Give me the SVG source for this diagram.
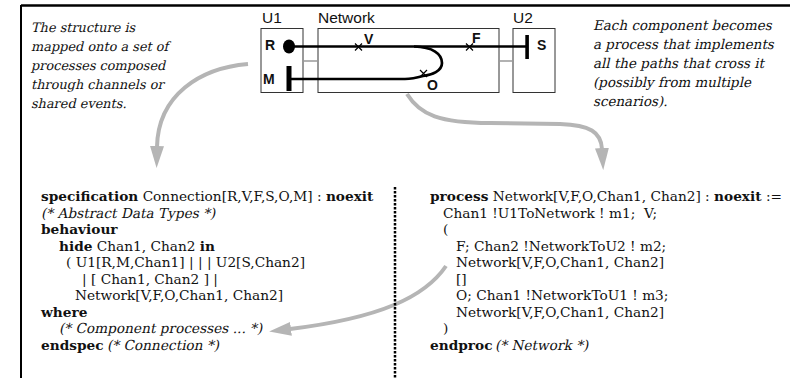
<svg xmlns="http://www.w3.org/2000/svg" width="790" height="378" viewBox="0 0 790 378">
  <style>
    .note { font-family: "DejaVu Serif", "Liberation Serif", serif; font-size: 12.9px; fill: #111; }
    .note-r { font-size: 13.5px; }
    .head { font-family: "Liberation Sans", Arial, sans-serif; font-size: 15.5px; fill: #111; }
    .pt { font-family: "Liberation Sans", Arial, sans-serif; font-size: 14px; font-weight: bold; fill: #111; }
    .code { font-family: "DejaVu Serif", "Liberation Serif", serif; font-size: 13.7px; fill: #111; }
    .b { font-weight: bold; }
    .box { fill: #fff; stroke: #333; stroke-width: 1; }
    .bind { stroke: #999; stroke-width: 1.5; }
    .path { fill: none; stroke: #000; stroke-width: 2.7; }
    .x { stroke: #000; stroke-width: 1.2; }
    .flow { fill: none; stroke: #b5b5b5; stroke-width: 4; }
  </style>
  <defs>
    <marker id="grayHead" markerUnits="userSpaceOnUse" viewBox="0 0 22 14" markerWidth="22" markerHeight="14" refX="1" refY="7" orient="auto">
      <path d="M0,0 L22,7 L0,14 z" fill="#b5b5b5"/>
    </marker>
  </defs>

  <!-- frame -->
  <g id="frame">
    <line x1="21" y1="5.5" x2="790" y2="5.5" stroke="#000" stroke-width="2.5"/>
    <line x1="21" y1="5" x2="21" y2="378" stroke="#000" stroke-width="2"/>
  </g>

  <!-- side notes (slanted serif) -->
  <g id="note-left" class="note">
    <text transform="translate(31,32) skewX(-13)">The structure is</text>
    <text transform="translate(31,51) skewX(-13)">mapped onto a set of</text>
    <text transform="translate(31,70) skewX(-13)">processes composed</text>
    <text transform="translate(31,89) skewX(-13)">through channels or</text>
    <text transform="translate(31,108) skewX(-13)">shared events.</text>
  </g>
  <g id="note-right" class="note note-r">
    <text transform="translate(593,30) skewX(-13)">Each component becomes</text>
    <text transform="translate(593,49) skewX(-13)">a process that implements</text>
    <text transform="translate(593,68) skewX(-13)">all the paths that cross it</text>
    <text transform="translate(593,87) skewX(-13)">(possibly from multiple</text>
    <text transform="translate(593,106) skewX(-13)">scenarios).</text>
  </g>

  <!-- component boxes -->
  <g id="U1">
    <text class="head" x="262" y="23">U1</text>
    <rect class="box" x="261" y="28.5" width="42" height="64"/>
  </g>
  <g id="Network">
    <text class="head" x="318" y="23">Network</text>
    <rect class="box" x="318" y="28.5" width="181" height="64"/>
  </g>
  <g id="U2">
    <text class="head" x="513" y="23">U2</text>
    <rect class="box" x="513" y="28.5" width="42" height="64"/>
  </g>

  <!-- bindings between components -->
  <g id="bindings">
    <line class="bind" x1="303" y1="61" x2="318" y2="61"/>
    <line class="bind" x1="499" y1="61" x2="513" y2="61"/>
  </g>

  <!-- scenario path -->
  <g id="scenario">
    <path class="path" d="M289,46.5 L527,46.5"/>
    <path class="path" d="M414,46.5 C433,47 442,54 442,63 C442,71 432,75 423,76 C416,78 412,79 405,79 L289,79"/>
    <ellipse cx="289" cy="46.5" rx="6" ry="7" fill="#000"/>
    <rect x="286.5" y="66" width="5" height="25" fill="#000"/>
    <rect x="525.3" y="35" width="3.6" height="24" fill="#000"/>
    <path class="x" d="M355,43.5 L362,50.5 M362,43.5 L355,50.5"/>
    <path class="x" d="M466,43.5 L473,50.5 M473,43.5 L466,50.5"/>
    <path class="x" d="M420,70 L427,77 M427,70 L420,77"/>
    <text class="pt" x="265" y="50">R</text>
    <text class="pt" x="263" y="84">M</text>
    <text class="pt" x="537" y="50">S</text>
    <text class="pt" x="364" y="44">V</text>
    <text class="pt" x="472" y="43">F</text>
    <text class="pt" x="427" y="90">O</text>
  </g>

  <!-- mapping arrows -->
  <g id="connectors">
    <path class="flow" d="M248,64 C200,68 158,95 157,147" marker-end="url(#grayHead)"/>
    <path class="flow" d="M407,94 C420,115 440,123 490,123 L560,124 C590,125 601,132 602,149" marker-end="url(#grayHead)"/>
    <path class="flow" d="M446,266 C425,297 380,318 290,329" marker-end="url(#grayHead)"/>
  </g>

  <!-- separator -->
  <line x1="395" y1="187" x2="395" y2="378" stroke="#000" stroke-width="2.5" stroke-dasharray="2.5 1.5"/>

  <!-- LOTOS specification -->
  <g id="spec" class="code">
    <text x="41" y="201"><tspan class="b">specification</tspan> Connection[R,V,F,S,O,M] : <tspan class="b">noexit</tspan></text>
    <text transform="translate(41,217.5) skewX(-12)">(* Abstract Data Types *)</text>
    <text x="41" y="234" class="b">behaviour</text>
    <text x="59" y="250.5"><tspan class="b">hide</tspan> Chan1, Chan2 <tspan class="b">in</tspan></text>
    <text x="66" y="267">( U1[R,M,Chan1] | | | U2[S,Chan2]</text>
    <text x="82" y="283.5">| [ Chan1, Chan2 ] |</text>
    <text x="75" y="300">Network[V,F,O,Chan1, Chan2]</text>
    <text x="41" y="316.5" class="b">where</text>
    <text transform="translate(59,333) skewX(-12)">(* Component processes ... *)</text>
    <text x="41" y="349.5" class="b">endspec</text>
    <text transform="translate(107,349.5) skewX(-12)">(* Connection *)</text>
  </g>

  <!-- Network process -->
  <g id="proc" class="code">
    <text x="430" y="201"><tspan class="b">process</tspan> Network[V,F,O,Chan1, Chan2] : <tspan class="b">noexit</tspan> :=</text>
    <text x="443" y="217.5">Chan1 !U1ToNetwork ! m1;&#160; V;</text>
    <text x="443" y="234">(</text>
    <text x="456" y="250.5">F; Chan2 !NetworkToU2 ! m2;</text>
    <text x="456" y="267">Network[V,F,O,Chan1, Chan2]</text>
    <text x="456" y="283.5">[]</text>
    <text x="456" y="300">O; Chan1 !NetworkToU1 ! m3;</text>
    <text x="456" y="316.5">Network[V,F,O,Chan1, Chan2]</text>
    <text x="443" y="333">)</text>
    <text x="430" y="349.5" class="b">endproc</text>
    <text transform="translate(495,349.5) skewX(-12)">(* Network *)</text>
  </g>
</svg>
